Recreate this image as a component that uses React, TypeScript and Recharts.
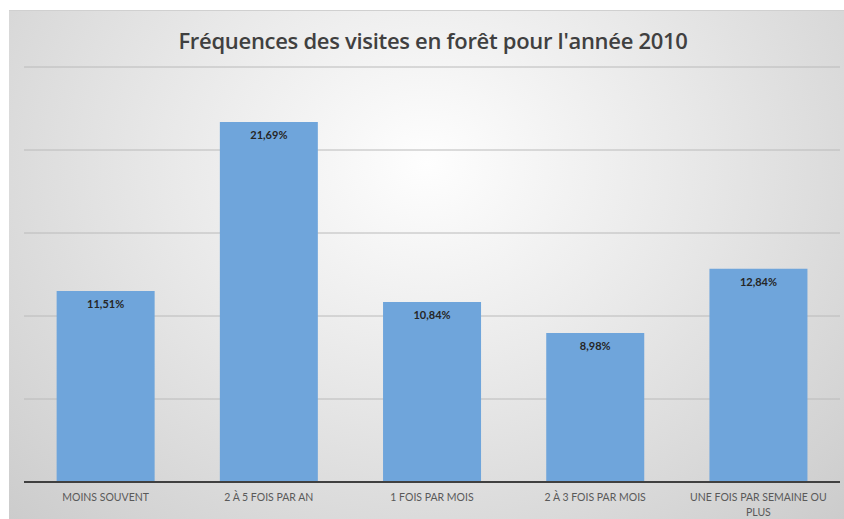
import { Bar, BarChart, CartesianGrid, LabelList, XAxis, YAxis } from "recharts";

const categories = ["MOINS SOUVENT", "2 À 5 FOIS PAR AN", "1 FOIS PAR MOIS", "2 À 3 FOIS PAR MOIS", "UNE FOIS PAR SEMAINE OU PLUS"];
const frequencies = [11.51, 21.69, 10.84, 8.98, 12.84];
const yTicks = [0, 5, 10, 15, 20, 25];

const data = categories.map((name, i) => ({ name, value: frequencies[i] }));

function CategoryTick({ x, y, payload }: any) {
  const label: string = payload.value;
  // long labels wrap onto two lines like the original
  const lines = label.length > 22 ? [label.slice(0, label.lastIndexOf(" ")), label.slice(label.lastIndexOf(" ") + 1)] : [label];
  return (
    <text x={x} y={y + 11} textAnchor="middle" fill="#595959" fontSize={10.5} fontFamily="Lato, sans-serif">
      {lines.map((line, i) => (
        <tspan key={i} x={x} dy={i === 0 ? 0 : 15}>
          {line}
        </tspan>
      ))}
    </text>
  );
}

export default function App() {
  return (
    <div
      style={{
        position: "absolute",
        left: 9,
        top: 10,
        width: 835,
        height: 509,
        background: "radial-gradient(ellipse at 50% 30%, #fefefe 0%, #e8e8e8 45%, #cccccc 100%)",
        borderTop: "1px solid #d0d0d0",
        boxSizing: "border-box",
        fontFamily: "Lato, sans-serif",
        overflow: "hidden",
      }}
    >
      <div
        style={{
          position: "absolute",
          top: 14,
          left: 0,
          width: 848,
          textAlign: "center",
          fontSize: 22,
          fontWeight: 600,
          fontFamily: "'Open Sans', sans-serif",
          color: "#404040",
          letterSpacing: -0.3,
        }}
      >
        Fréquences des visites en forêt pour l'année 2010
      </div>
      <div style={{ position: "absolute", left: 0, top: -1 }}>
        <BarChart width={835} height={509} data={data} margin={{ top: 57, right: 4, bottom: 7, left: 15 }} barCategoryGap="20%">
          <CartesianGrid horizontal vertical={false} stroke="#bababa" strokeWidth={1} />
          <YAxis hide domain={[0, 25]} ticks={yTicks} />
          <XAxis dataKey="name" height={30} axisLine={{ stroke: "#404040", strokeWidth: 2 }} tickLine={false} interval={0} tick={<CategoryTick />} />
          <Bar dataKey="value" fill="#6fa5db" isAnimationActive={false}>
            <LabelList
              dataKey="value"
              position="insideTop"
              offset={9}
              formatter={(v: any) => Number(v).toFixed(2).replace(".", ",") + "%"}
              fill="#262626"
              fontSize={11}
              fontWeight={700}
              fontFamily="Lato, sans-serif"
            />
          </Bar>
        </BarChart>
      </div>
    </div>
  );
}
